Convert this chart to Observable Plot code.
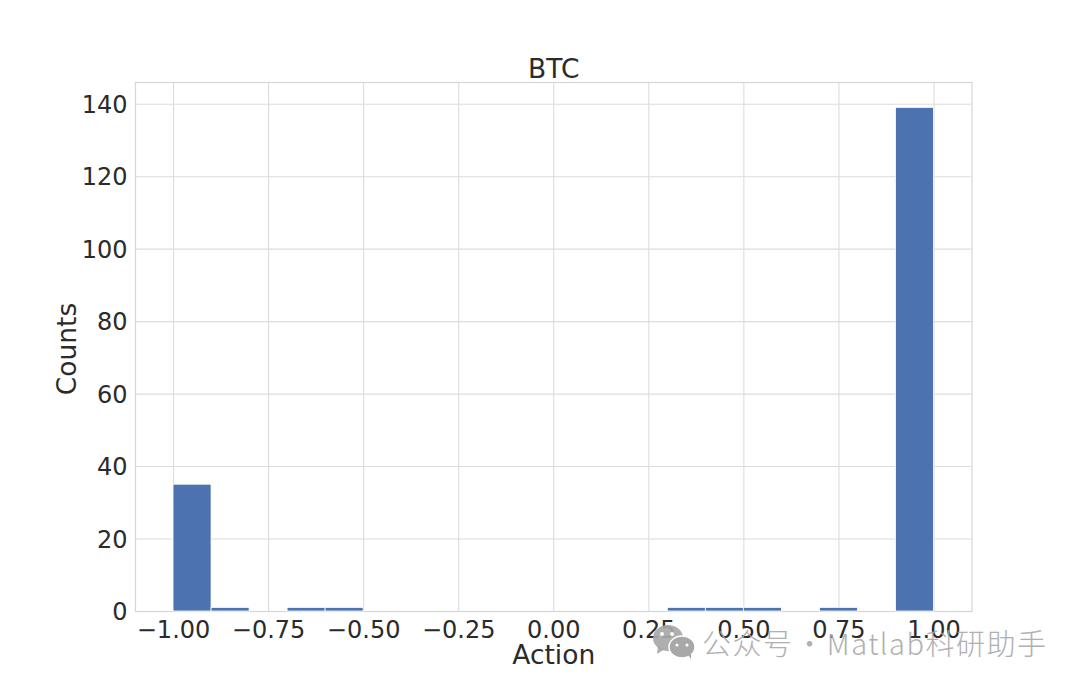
<!DOCTYPE html>
<html>
<head>
<meta charset="utf-8">
<script src="https://cdn.jsdelivr.net/npm/d3@7"></script>
<script src="https://cdn.jsdelivr.net/npm/@observablehq/plot@0.6"></script>
<style>
html,body{margin:0;padding:0;background:#fff;}
#wrap{position:relative;width:1080px;height:687px;overflow:hidden;}
#wrap svg.plot{display:block;}
#mark{position:absolute;left:702px;top:621px;font:29px "Noto Sans CJK SC","Noto Sans",sans-serif;font-weight:300;letter-spacing:1.5px;word-spacing:-6.5px;color:#a8a8a8;white-space:nowrap;line-height:42px;opacity:.9;}
#icon{position:absolute;left:650px;top:622px;}
</style>
</head>
<body>
<div id="wrap"></div>
<script>
const binStart = [-1.0, -0.9, -0.7, -0.6, 0.3, 0.4, 0.5, 0.7, 0.9];
const binEnd   = [-0.9, -0.8, -0.6, -0.5, 0.4, 0.5, 0.6, 0.8, 1.0];
const counts   = [35, 1, 1, 1, 1, 1, 1, 1, 139];
const xTicks = [-1, -0.75, -0.5, -0.25, 0, 0.25, 0.5, 0.75, 1];
const yTicks = [0, 20, 40, 60, 80, 100, 120, 140];
const chartTitle = ["BTC"];
const bins = counts.map((c, i) => ({x1: binStart[i], x2: binEnd[i], y: c}));

const font = "'DejaVu Sans', sans-serif";
const ink = "#2b2b2b";
const plot = Plot.plot({
  width: 1080, height: 687,
  marginLeft: 135, marginRight: 108.5, marginTop: 82, marginBottom: 76,
  style: {fontFamily: font, background: "#fff", color: ink},
  x: {domain: [-1.1, 1.1], label: null},
  y: {domain: [0, 146], label: null},
  marks: [
    Plot.gridX(xTicks, {stroke: "#dcdcdc", strokeOpacity: 1, strokeWidth: 1.1}),
    Plot.gridY(yTicks, {stroke: "#dcdcdc", strokeOpacity: 1, strokeWidth: 1.1}),
    Plot.frame({stroke: "#d6d6d6", strokeWidth: 1.2}),
    Plot.rectY(bins, {x1: "x1", x2: "x2", y: "y", fill: "#4c72b0", stroke: "#fff", strokeWidth: 0.8}),
    Plot.axisX(xTicks, {tickSize: 0, tickPadding: 9, fontSize: 24, fill: ink, tickFormat: d3.format(".2f"), label: null}),
    Plot.axisY(yTicks, {tickSize: 0, tickPadding: 8, fontSize: 24, fill: ink, dy: 1, label: null}),
    Plot.text(chartTitle, {text: d => d, frameAnchor: "top", dy: -23, fontSize: 26.5, fill: ink, textAnchor: "middle"}),
    Plot.text(["Action"], {text: d => d, frameAnchor: "bottom", dy: 44, lineAnchor: "middle", fontSize: 26.5, fill: ink, textAnchor: "middle"}),
    Plot.text(["Counts"], {text: d => d, frameAnchor: "left", dx: -68, dy: 2, rotate: -90, fontSize: 26.5, fill: ink, textAnchor: "middle"})
  ]
});
const wrap = document.getElementById("wrap");
wrap.appendChild(plot);
wrap.insertAdjacentHTML("beforeend", `
<svg id="icon" width="48" height="40" viewBox="0 0 48 40">
  <g fill="#a8a8a8" fill-opacity=".92">
    <ellipse cx="18" cy="16" rx="15" ry="13"/><path d="M8 24 L7 32 L15 27Z"/>
  </g>
  <g fill="#a8a8a8" stroke="#fff" stroke-width="1.5">
    <ellipse cx="32" cy="25" rx="13" ry="11"/>
  </g>
  <path d="M38 33 L41 37 L41 31Z" fill="#a8a8a8"/>
  <g fill="#fff"><circle cx="12" cy="12" r="2"/><circle cx="22" cy="12" r="2"/><circle cx="27" cy="23" r="1.6"/><circle cx="37" cy="23" r="1.6"/></g>
</svg>
<div id="mark">公众号 · Matlab科研助手</div>`);
</script>
</body>
</html>
